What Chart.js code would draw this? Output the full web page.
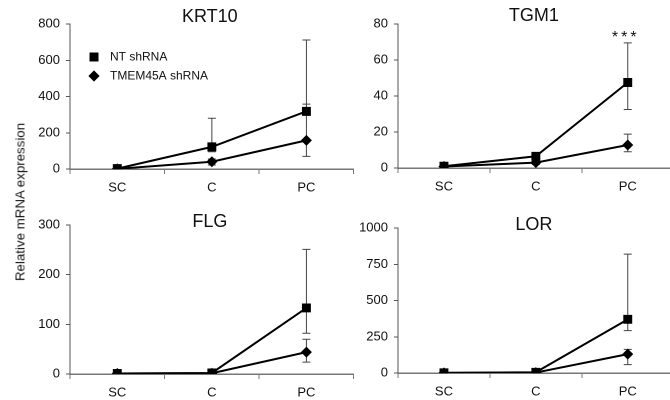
<!DOCTYPE html>
<html>
<head>
<meta charset="utf-8">
<script src="https://cdn.jsdelivr.net/npm/chart.js@4"></script>
<style>
  html, body { margin: 0; padding: 0; background: #fff; overflow: hidden; }
  #wrap { position: relative; width: 670px; height: 400px; overflow: hidden; background: #fff; }
  #wrap canvas { position: absolute; }
  #ytitle {
    position: absolute; left: 20px; top: 202px;
    transform: translate(-50%, -50%) rotate(-90deg);
    font: 13.3px "Liberation Sans", Arial, sans-serif; color: #111; white-space: nowrap;
  }
</style>
</head>
<body>
<div id="wrap">
  <canvas id="c-krt10" width="360" height="200" style="left:0;top:0"></canvas>
  <canvas id="c-tgm1" width="345" height="200" style="left:335px;top:0"></canvas>
  <canvas id="c-flg" width="360" height="200" style="left:0;top:200px"></canvas>
  <canvas id="c-lor" width="345" height="200" style="left:335px;top:200px"></canvas>
  <div id="ytitle">Relative mRNA expression</div>
</div>
<script>
// 数値は図から目視で読み取り
const categories = ['SC', 'C', 'PC'];
const seriesNames = ['NT shRNA', 'TMEM45A shRNA'];

const krt10Nt = [2, 122, 318];
const krt10NtHi = [2, 280, 712];
const krt10NtLo = [2, 95, 318];
const krt10Tm = [1, 40, 158];
const krt10TmHi = [1, 55, 358];
const krt10TmLo = [1, 22, 70];

const tgm1Nt = [1, 6.5, 47.5];
const tgm1NtHi = [1.5, 8.5, 69.5];
const tgm1NtLo = [0.5, 4.5, 32.5];
const tgm1Tm = [0.8, 3, 12.8];
const tgm1TmHi = [1, 4, 18.8];
const tgm1TmLo = [0.5, 2, 9];
const tgm1Sig = ['', '', '***'];

const flgNt = [1, 2, 133];
const flgNtHi = [1, 3, 251];
const flgNtLo = [1, 1, 82];
const flgTm = [1, 1.5, 44];
const flgTmHi = [1, 2, 70];
const flgTmLo = [1, 1, 24];

const lorNt = [1, 5, 370];
const lorNtHi = [1, 8, 820];
const lorNtLo = [1, 3, 292];
const lorTm = [1, 3, 130];
const lorTmHi = [1, 5, 163];
const lorTmLo = [1, 2, 58];

const FONT = '"Liberation Sans", Arial, sans-serif';

// エラーバー（線の下に描く）
const errorBars = {
  id: 'errorBars',
  beforeDatasetsDraw: (chart) => {
    const ctx = chart.ctx;
    const xs = chart.scales.x;
    const ys = chart.scales.y;
    ctx.save();
    ctx.strokeStyle = '#444';
    ctx.lineWidth = 1;
    chart.data.datasets.forEach((ds) => {
      ds.data.forEach((v, i) => {
        const x = xs.getPixelForValue(i);
        const yHi = ys.getPixelForValue(ds.errHi[i]);
        const yLo = ys.getPixelForValue(ds.errLo[i]);
        ctx.beginPath();
        ctx.moveTo(x, yHi); ctx.lineTo(x, yLo);
        ctx.moveTo(x - 4, yHi); ctx.lineTo(x + 4, yHi);
        ctx.moveTo(x - 4, yLo); ctx.lineTo(x + 4, yLo);
        ctx.stroke();
      });
    });
    ctx.restore();
  },
};

// パネルタイトル・有意差マーク
const panelText = {
  id: 'panelText',
  afterDraw: (chart, args, opts) => {
    const ctx = chart.ctx;
    const area = chart.chartArea;
    ctx.save();
    ctx.fillStyle = '#111';
    ctx.textAlign = 'center';
    ctx.textBaseline = 'middle';
    ctx.font = '18px ' + FONT;
    ctx.fillText(opts.title, (area.left + area.right) / 2 - 2, opts.titleY);
    if (opts.sig) {
      const ds = chart.data.datasets[0];
      ctx.font = '16px ' + FONT;
      ctx.textBaseline = 'alphabetic';
      ctx.letterSpacing = '3px';
      opts.sig.forEach((s, i) => {
        if (!s) return;
        const x = chart.scales.x.getPixelForValue(i);
        const y = chart.scales.y.getPixelForValue(ds.errHi[i]);
        ctx.fillText(s, x - 2, y - 1);
      });
    }
    ctx.restore();
  },
};

// 凡例（KRT10 パネル内）
const innerLegend = {
  id: 'innerLegend',
  afterDraw: (chart, args, opts) => {
    if (!opts.show) return;
    const ctx = chart.ctx;
    ctx.save();
    ctx.font = '12px ' + FONT;
    ctx.textBaseline = 'middle';
    chart.data.datasets.forEach((ds, i) => {
      const y = 57 + i * 19;
      Chart.helpers.drawPoint(ctx, { pointStyle: ds.pointStyle, radius: ds.pointRadius, borderWidth: 0, rotation: 0 }, 94, y);
      ctx.fillStyle = '#000';
      ctx.fill();
      ctx.fillStyle = '#111';
      ctx.fillText(ds.label, 110, y);
    });
    ctx.restore();
  },
};

function makePanel(id, p) {
  const ctx = document.getElementById(id);
  return new Chart(ctx, {
    type: 'line',
    data: {
      labels: categories,
      datasets: [
        {
          label: seriesNames[0], data: p.nt, errHi: p.ntHi, errLo: p.ntLo,
          borderColor: '#000', backgroundColor: '#000', borderWidth: 2,
          pointStyle: 'rect', pointRadius: 6.3, pointBorderWidth: 0, tension: 0,
        },
        {
          label: seriesNames[1], data: p.tm, errHi: p.tmHi, errLo: p.tmLo,
          borderColor: '#000', backgroundColor: '#000', borderWidth: 2,
          pointStyle: 'rectRot', pointRadius: 5.5, pointBorderWidth: 0, tension: 0,
        },
      ],
    },
    options: {
      responsive: false,
      animation: false,
      devicePixelRatio: 2,
      layout: { padding: { top: p.top, right: p.right, left: 0, bottom: 0 } },
      scales: {
        x: {
          offset: true,
          afterFit: (s) => { s.height = p.xH; },
          grid: { offset: true, drawOnChartArea: false, tickLength: 5, color: '#777', lineWidth: 1 },
          border: { color: '#777', width: 1.5 },
          ticks: { color: '#111', padding: 6, font: { family: FONT, size: 13 } },
        },
        y: {
          min: 0, max: p.max,
          afterFit: (s) => { s.width = p.yW; },
          grid: { drawOnChartArea: false, tickLength: 4, color: '#555' },
          border: { color: '#555', width: 1 },
          ticks: {
            stepSize: p.step, color: '#111', padding: 6, font: { family: FONT, size: 13 },
            callback: (v) => String(v),
          },
        },
      },
      plugins: {
        legend: { display: false },
        tooltip: { enabled: false },
        panelText: { title: p.title, titleY: p.titleY, sig: p.sig },
        innerLegend: { show: !!p.legend },
      },
    },
    plugins: [errorBars, panelText, innerLegend],
  });
}

makePanel('c-krt10', {
  title: 'KRT10', titleY: 17, legend: true,
  nt: krt10Nt, ntHi: krt10NtHi, ntLo: krt10NtLo, tm: krt10Tm, tmHi: krt10TmHi, tmLo: krt10TmLo,
  max: 800, step: 200, top: 24, right: 5, yW: 70, xH: 31,
});
makePanel('c-tgm1', {
  title: 'TGM1', titleY: 16, sig: tgm1Sig,
  nt: tgm1Nt, ntHi: tgm1NtHi, ntLo: tgm1NtLo, tm: tgm1Tm, tmHi: tgm1TmHi, tmLo: tgm1TmLo,
  max: 80, step: 20, top: 24, right: 0, yW: 63, xH: 32,
});
makePanel('c-flg', {
  title: 'FLG', titleY: 22,
  nt: flgNt, ntHi: flgNtHi, ntLo: flgNtLo, tm: flgTm, tmHi: flgTmHi, tmLo: flgTmLo,
  max: 300, step: 100, top: 25, right: 5, yW: 70, xH: 26,
});
makePanel('c-lor', {
  title: 'LOR', titleY: 25,
  nt: lorNt, ntHi: lorNtHi, ntLo: lorNtLo, tm: lorTm, tmHi: lorTmHi, tmLo: lorTmLo,
  max: 1000, step: 250, top: 28, right: 0, yW: 63, xH: 27,
});
</script>
</body>
</html>
